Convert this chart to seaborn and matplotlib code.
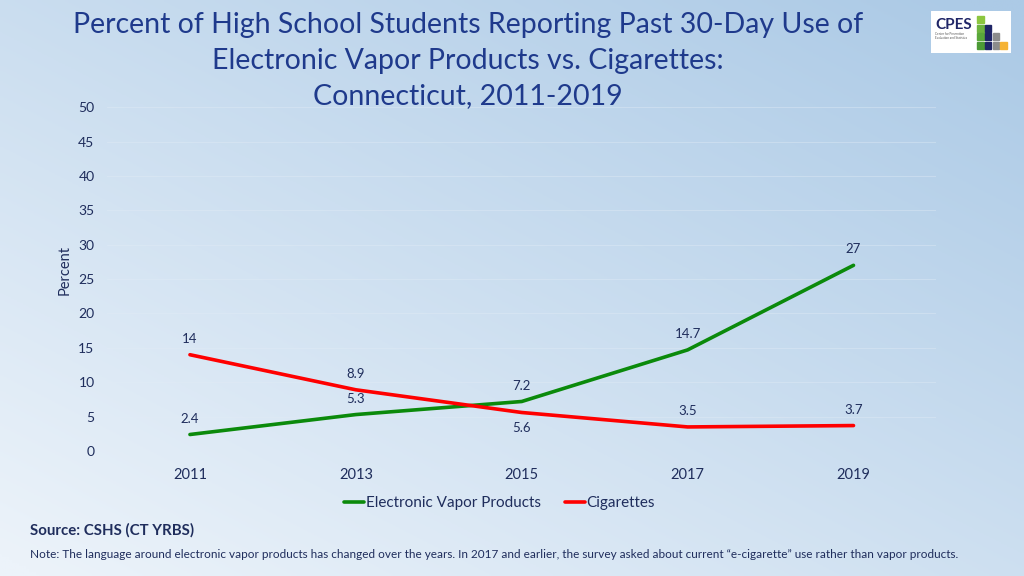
import numpy as np
import pandas as pd
import matplotlib
matplotlib.use('Agg')
import matplotlib.pyplot as plt
from matplotlib.patches import Rectangle
import seaborn as sns

years = ['2011', '2013', '2015', '2017', '2019']
vapor = [2.4, 5.3, 7.2, 14.7, 27]
cigarettes = [14, 8.9, 5.6, 3.5, 3.7]
series_names = ['Electronic Vapor Products', 'Cigarettes']
title_lines = ['Percent of High School Students Reporting Past 30-Day Use of',
               'Electronic Vapor Products vs. Cigarettes:',
               'Connecticut, 2011-2019']
# label placement for each point: 1 above, -1 below
vapor_side = [1, 1, 1, 1, 1]
cig_side = [1, 1, -1, 1, 1]

navy = '#1f2d5c'
title_blue = '#1f3a8c'

sns.set_theme(style='white')
plt.rcParams['font.family'] = ['Lato', 'DejaVu Sans']

df = pd.DataFrame({
    'year': years * 2,
    'value': vapor + cigarettes,
    'series': [series_names[0]] * len(years) + [series_names[1]] * len(years),
})

fig = plt.figure(figsize=(10.24, 5.76), dpi=100)

# gradient background
bg = fig.add_axes([0, 0, 1, 1], zorder=-10)
gx, gy = np.meshgrid(np.linspace(0, 1, 300), np.linspace(0, 1, 200))
light = np.array([236, 243, 250]) / 255
dark = np.array([172, 202, 230]) / 255
t = np.clip(0.5 * gx + 0.55 * (1 - gy) - 0.02, 0, 1)
img = light[None, None, :] * (1 - t[..., None]) + dark[None, None, :] * t[..., None]
bg.imshow(img, aspect='auto', extent=[0, 1, 0, 1], origin='upper')
bg.axis('off')

ax = fig.add_axes([0.1045, 0.217, 0.81, 0.597])
ax.patch.set_alpha(0)
sns.lineplot(data=df, x='year', y='value', hue='series', palette=['#0b8a0b', '#ff0000'],
             linewidth=2.6, sort=False, ax=ax, legend=True)

ax.set_ylim(0, 50)
ax.set_xlim(-0.5, 4.5)
ax.set_yticks(range(0, 51, 5))
ax.yaxis.grid(True, color='#e2ecf6', linewidth=0.8, alpha=0.4)
ax.xaxis.grid(False)
for s in ax.spines.values():
    s.set_visible(False)
ax.tick_params(axis='y', colors=navy, labelsize=10, length=0, pad=9)
ax.tick_params(axis='x', colors=navy, labelsize=10.5, length=0, pad=12)
ax.set_xlabel('')
ax.set_ylabel('Percent', color=navy, fontsize=10.5)
ax.yaxis.set_label_coords(-0.043, 0.526)

for i, (v, s) in enumerate(zip(vapor, vapor_side)):
    ax.annotate(f'{v:g}', (i, v), xytext=(0, 11.5 * s), textcoords='offset points',
                ha='center', va='center', color=navy, fontsize=9.5)
for i, (v, s) in enumerate(zip(cigarettes, cig_side)):
    ax.annotate(f'{v:g}', (i, v), xytext=(0, 11.5 * s), textcoords='offset points',
                ha='center', va='center', color=navy, fontsize=9.5)

handles, labels = ax.get_legend_handles_labels()
ax.get_legend().remove()
leg = fig.legend(handles, labels, loc='center', bbox_to_anchor=(0.488, 0.127), ncol=2,
                 frameon=False, handlelength=1.3, handletextpad=0.1, columnspacing=1.6,
                 fontsize=11)
for txt in leg.get_texts():
    txt.set_color(navy)

for line, ypix in zip(title_lines, [25, 60.5, 96]):
    fig.text(0.457, 1 - ypix / 576, line, ha='center', va='center', fontsize=20.5,
             color=title_blue)

fig.text(0.029, 0.08, 'Source: CSHS (CT YRBS)', fontsize=10.8, fontweight='bold', color=navy,
         va='center')
fig.text(0.029, 0.038, 'Note: The language around electronic vapor products has changed over the years. '
         'In 2017 and earlier, the survey asked about current \u201ce-cigarette\u201d use rather than vapor products.',
         fontsize=8.5, color=navy, va='center')

# CPES logo
logo = fig.add_axes([931 / 1024, 1 - 53 / 576, 80 / 1024, 42 / 576])
logo.set_xlim(0, 80)
logo.set_ylim(42, 0)
logo.axis('off')
logo.add_patch(Rectangle((0, 0), 80, 42, color='white'))
logo.text(4, 14, 'CPES', fontsize=11, fontweight='bold', color='#1f2566', va='center')
logo.text(4, 25, 'Center for Prevention\nEvaluation and Statistics', fontsize=2.2, color='#555555',
          va='center', linespacing=1.3)
sq = [(0, 0, '#8cc63f'), (0, 1, '#6db33f'), (0, 2, '#5aa83a'), (0, 3, '#4c9a35'),
      (1, 1, '#1f2566'), (1, 2, '#1f2566'), (1, 3, '#1f2566'),
      (2, 2, '#8c8c8c'), (2, 3, '#8c8c8c'), (3, 3, '#f5b335')]
for c, r, col in sq:
    logo.add_patch(Rectangle((46 + c * 7.8, 5 + r * 8.5), 6.5, 7, color=col))

fig.savefig('out.png', dpi=100)
